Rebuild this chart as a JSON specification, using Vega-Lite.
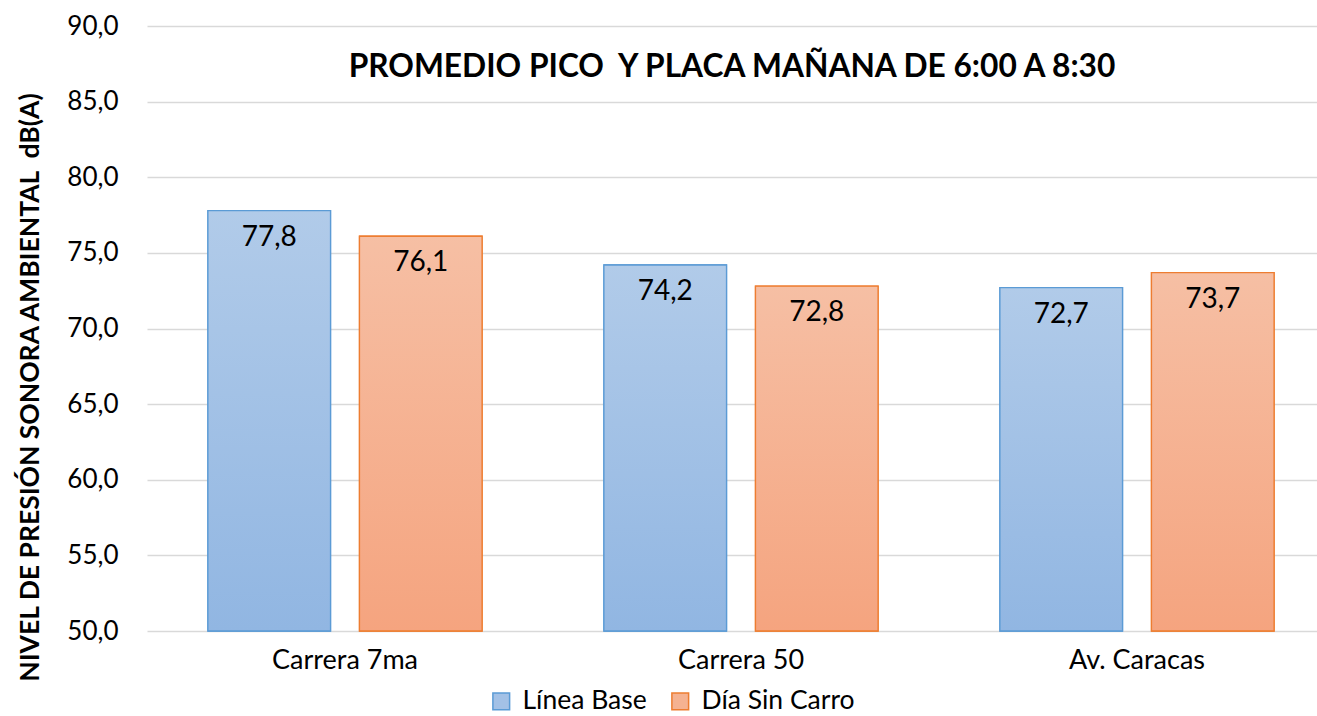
{
  "$schema": "https://vega.github.io/schema/vega-lite/v6.json",
  "autosize": "none",
  "width": 1170,
  "height": 605,
  "padding": {"left": 147, "top": 26, "right": 0, "bottom": 85},
  "background": "white",
  "config": {
    "locale": {"number": {"decimal": ",", "thousands": ".", "grouping": [3], "currency": ["$", ""]}},
    "font": "Lato",
    "view": {"stroke": null}
  },
  "title": {
    "text": "PROMEDIO PICO\u00a0 Y PLACA MAÑANA DE 6:00 A 8:30",
    "font": "Lato",
    "fontSize": 31.7,
    "fontWeight": "bold",
    "color": "#000000",
    "anchor": "middle",
    "baseline": "alphabetic",
    "offset": 0,
    "dy": 96
  },
  "data": {
    "values": [
      {"road": "Carrera 7ma", "series": "Línea Base", "value": 77.8},
      {"road": "Carrera 7ma", "series": "Día Sin Carro", "value": 76.1},
      {"road": "Carrera 50", "series": "Línea Base", "value": 74.2},
      {"road": "Carrera 50", "series": "Día Sin Carro", "value": 72.8},
      {"road": "Av. Caracas", "series": "Línea Base", "value": 72.7},
      {"road": "Av. Caracas", "series": "Día Sin Carro", "value": 73.7}
    ]
  },
  "encoding": {
    "x": {
      "field": "road",
      "type": "nominal",
      "sort": ["Carrera 7ma", "Carrera 50", "Av. Caracas"],
      "scale": {"range": [0, 1188], "paddingInner": 0, "paddingOuter": 0},
      "axis": {
        "title": null,
        "labelAngle": 0,
        "labelFont": "Lato",
        "labelFontSize": 27,
        "labelColor": "#000000",
        "labelPadding": 16,
        "domain": false,
        "ticks": false,
        "grid": false
      }
    },
    "xOffset": {
      "field": "series",
      "type": "nominal",
      "sort": ["Línea Base", "Día Sin Carro"],
      "scale": {"paddingInner": 0.191, "paddingOuter": 0.402}
    },
    "y": {
      "field": "value",
      "type": "quantitative",
      "scale": {"domain": [50, 90], "zero": false, "nice": false},
      "axis": {
        "values": [50, 55, 60, 65, 70, 75, 80, 85, 90],
        "format": ".1f",
        "title": "NIVEL DE PRESIÓN SONORA AMBIENTAL\u00a0 dB(A)",
        "titleFont": "Lato",
        "titleFontSize": 26.5,
        "titleFontWeight": "bold",
        "titleColor": "#000000",
        "titleX": -117,
        "titleY": 361,
        "titleAngle": -90,
        "titleAlign": "center",
        "titleBaseline": "middle",
        "labelFont": "Lato",
        "labelFontSize": 26,
        "labelColor": "#000000",
        "labelPadding": 29,
        "domain": false,
        "ticks": false,
        "grid": true,
        "gridColor": "#d9d9d9",
        "gridWidth": 1.3
      }
    }
  },
  "layer": [
    {
      "mark": {"type": "bar", "strokeWidth": 1.3},
      "encoding": {
        "y2": {"datum": 50},
        "fill": {
          "field": "series",
          "type": "nominal",
          "sort": ["Línea Base", "Día Sin Carro"],
          "scale": {"domain": ["Línea Base", "Día Sin Carro"], "range": ["#a3c1e6", "#f5b291"]},
          "legend": {
            "title": null,
            "orient": "none",
            "legendX": 341,
            "legendY": 662,
            "direction": "horizontal",
            "symbolType": "square",
            "symbolSize": 280,
            "symbolStrokeWidth": 1.5,
            "labelFont": "Lato",
            "labelFontSize": 26.5,
            "labelColor": "#000000",
            "labelOffset": 8,
            "columnPadding": 20
          }
        },
        "stroke": {
          "field": "series",
          "type": "nominal",
          "sort": ["Línea Base", "Día Sin Carro"],
          "scale": {"domain": ["Línea Base", "Día Sin Carro"], "range": ["#5b9bd5", "#ed7d31"]},
          "legend": null
        }
      }
    },
    {
      "transform": [{"filter": "datum.series === 'Línea Base'"}],
      "mark": {
        "type": "bar",
        "stroke": "#5b9bd5",
        "strokeWidth": 1.3,
        "fill": {
          "gradient": "linear",
          "x1": 0, "y1": 0, "x2": 0, "y2": 1,
          "stops": [
            {"offset": 0, "color": "#b1cbe9"},
            {"offset": 1, "color": "#91b6e2"}
          ]
        }
      },
      "encoding": {"y2": {"datum": 50}}
    },
    {
      "transform": [{"filter": "datum.series === 'Día Sin Carro'"}],
      "mark": {
        "type": "bar",
        "stroke": "#ed7d31",
        "strokeWidth": 1.3,
        "fill": {
          "gradient": "linear",
          "x1": 0, "y1": 0, "x2": 0, "y2": 1,
          "stops": [
            {"offset": 0, "color": "#f6bfa4"},
            {"offset": 1, "color": "#f5a47f"}
          ]
        }
      },
      "encoding": {"y2": {"datum": 50}}
    },
    {
      "mark": {"type": "text", "baseline": "middle", "align": "center", "dy": 27, "font": "Lato", "fontSize": 28, "color": "#000000"},
      "encoding": {
        "text": {"field": "value", "type": "quantitative", "format": ".1f"}
      }
    }
  ]
}
